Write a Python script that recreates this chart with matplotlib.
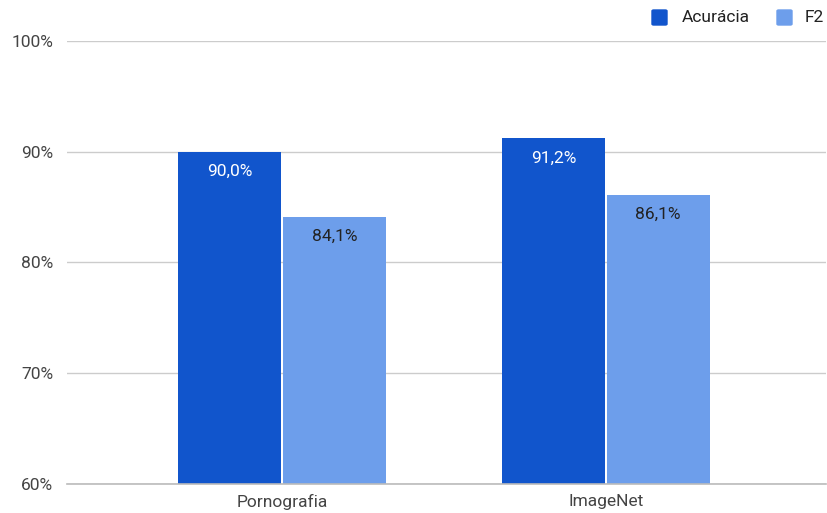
import matplotlib
matplotlib.use("Agg")
import matplotlib.pyplot as plt
from matplotlib.patches import FancyBboxPatch
import numpy as np

plt.rcParams['font.family'] = ['Roboto', 'DejaVu Sans']

categories = ["Pornografia", "ImageNet"]
series_names = ["Acurácia", "F2"]
acuracia = [90.0, 91.2]
f2 = [84.1, 86.1]
yticks = [60, 70, 80, 90, 100]
colors = ["#1155cc", "#6d9eeb"]
label_colors = ["#ffffff", "#222222"]

fig = plt.figure(figsize=(8.28, 5.13), dpi=100)
W, H = 828, 513
ax = fig.add_axes([67 / W, (513 - 484) / H, (826 - 67) / W, (484 - 41) / H])

x = np.arange(len(categories))
bw = 0.318
gap = 0.004
for i, (vals, c, lc) in enumerate(zip([acuracia, f2], colors, label_colors)):
    offs = (-bw / 2 - gap / 2) if i == 0 else (bw / 2 + gap / 2)
    ax.bar(x + offs, [v - 60 for v in vals], bottom=60, width=bw, color=c, zorder=3)
    for xi, v in zip(x, vals):
        ax.annotate(f"{v:.1f}%".replace(".", ","), xy=(xi + offs, v), xytext=(0, -14),
                    textcoords="offset points", ha="center", va="center",
                    fontsize=12.5, color=lc, zorder=4)

ax.set_xlim(-0.664, 1.679)
ax.set_ylim(60, 100)
ax.set_yticks(yticks)
ax.set_yticklabels([f"{t}%" for t in yticks])
ax.set_xticks(x)
ax.set_xticklabels(categories)
ax.grid(axis="y", color="#cccccc", linewidth=1, zorder=0)
for s in ax.spines.values():
    s.set_visible(False)
ax.axhline(60, color="#bbbbbb", linewidth=1.2, zorder=4, clip_on=False)
ax.tick_params(axis="both", length=0, labelsize=12.5, labelcolor="#444444")
ax.tick_params(axis="y", pad=10)
ax.tick_params(axis="x", pad=7)

# legend
def fx(px):
    return px / W
def fy(py):
    return 1 - py / H
for sx, tx, name, c in [(652, 682, series_names[0], colors[0]), (777, 805, series_names[1], colors[1])]:
    fig.patches.append(FancyBboxPatch((fx(sx), fy(25)), 15 / W, 15 / H, transform=fig.transFigure,
                                      boxstyle="round,pad=0,rounding_size=0.002",
                                      color=c, figure=fig))
    fig.text(fx(tx), fy(17.5), name, ha="left", va="center", fontsize=12.5, color="#222222")

fig.savefig("out.png", dpi=100)
